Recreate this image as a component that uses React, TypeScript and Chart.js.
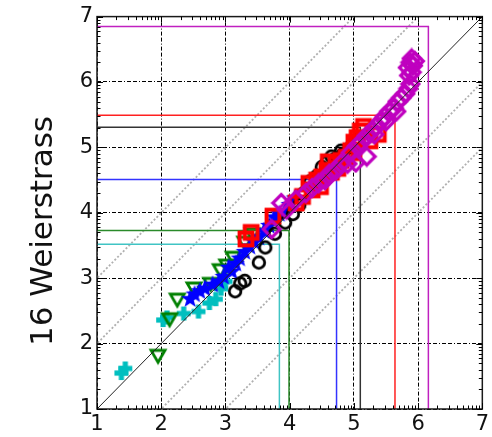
import React, { useEffect, useRef } from "react";
import { Chart, registerables } from "chart.js";

Chart.register(...registerables);

// Axis range and tick labels
const AXIS_MIN = 1;
const AXIS_MAX = 7;
const tickLabels = ["1", "2", "3", "4", "5", "6", "7"];
const yTitle = "16 Weierstrass";

// Offsets of the dotted reference diagonals
const diagonalOffsets = [-2, -1, 1, 2];

// Series values
const cyanX = [1.38, 1.44, 2.03, 2.09, 2.35, 2.58, 2.75, 2.85, 2.93, 3.0];
const cyanY = [1.55, 1.62, 2.36, 2.4, 2.46, 2.49, 2.62, 2.68, 2.84, 2.95];

const greenX = [1.95, 2.13, 2.25, 2.51, 2.77, 2.92, 3.02, 3.12, 3.3, 3.42];
const greenY = [1.82, 2.38, 2.68, 2.85, 2.92, 3.13, 3.2, 3.32, 3.55, 3.68];

const blueX = [2.45, 2.52, 2.6, 2.68, 2.8, 2.9, 2.97, 3.05, 3.1, 3.16, 3.22, 3.3, 3.38, 3.45, 3.52, 3.6, 3.68, 3.76, 3.84, 3.92, 4.0, 4.08];
const blueY = [2.68, 2.75, 2.8, 2.84, 2.9, 2.95, 3.02, 3.16, 3.1, 3.22, 3.3, 3.4, 3.48, 3.55, 3.62, 3.72, 3.8, 3.93, 3.98, 4.02, 4.12, 4.22];

const blackX = [3.15, 3.23, 3.3, 3.52, 3.62, 3.77, 3.93, 4.05, 4.15, 4.22, 4.32, 4.42, 4.5, 4.58, 4.65, 4.7, 4.8, 4.83, 4.95, 5.0, 5.05];
const blackY = [2.8, 2.92, 2.96, 3.24, 3.47, 3.68, 3.85, 3.98, 4.12, 4.3, 4.48, 4.56, 4.7, 4.78, 4.86, 4.82, 4.95, 4.9, 5.0, 5.08, 5.12];

const redX = [3.32, 3.4, 3.74, 4.1, 4.2, 4.3, 4.35, 4.42, 4.48, 4.5, 4.58, 4.65, 4.72, 4.8, 4.88, 4.95, 5.0, 5.05, 5.1, 5.15, 5.25, 5.38, 5.0, 4.75, 4.6];
const redY = [3.6, 3.7, 3.95, 4.15, 4.25, 4.45, 4.35, 4.5, 4.4, 4.55, 4.65, 4.62, 4.75, 4.8, 4.85, 4.95, 5.08, 5.15, 5.25, 5.32, 5.1, 5.2, 4.92, 4.68, 4.78];

const magentaX = [3.72, 3.87, 3.95, 4.1, 4.25, 4.35, 4.45, 4.55, 4.62, 4.72, 4.8, 4.9, 5.03, 5.2, 4.95, 5.05, 5.12, 5.2, 5.28, 5.35, 5.42, 5.48, 5.55, 5.62, 5.68, 5.74, 5.8, 5.85, 5.88, 5.86, 5.9, 5.84, 5.92, 5.88, 5.95, 5.9, 5.32, 5.5, 5.66];
const magentaY = [3.75, 4.15, 4.05, 4.2, 4.3, 4.38, 4.45, 4.5, 4.6, 4.65, 4.75, 4.75, 4.77, 4.86, 4.92, 5.02, 5.08, 5.18, 5.25, 5.32, 5.4, 5.47, 5.55, 5.6, 5.7, 5.76, 5.82, 5.9, 5.97, 6.1, 6.15, 6.22, 6.25, 6.3, 6.32, 6.36, 5.2, 5.4, 5.55];

// Threshold corners, one per series (cyan, green, blue, black, red, magenta)
const levelX = [3.84, 3.99, 4.73, 5.1, 5.64, 6.16];
const levelY = [3.52, 3.73, 4.51, 5.31, 5.49, 6.85];

const seriesColors = ["#00bfbf", "#008000", "#0000ff", "#000000", "#ff0000", "#bf00bf"];
const levelColors = ["#40c4c4", "#2a8a2a", "#3333ff", "#333333", "#ff2020", "#c020c0"];
const markerKinds = ["plus", "triDown", "star", "circle", "square", "diamond"];

const FONT = '"DejaVu Sans", "Liberation Sans", sans-serif';

function makeMarker(kind: string, color: string): HTMLCanvasElement {
  const c = document.createElement("canvas");
  c.width = 22;
  c.height = 22;
  const g = c.getContext("2d")!;
  g.translate(11, 11);
  g.strokeStyle = color;
  g.fillStyle = color;
  g.lineJoin = "miter";
  switch (kind) {
    case "plus":
      g.fillRect(-7, -2.6, 14, 5.2);
      g.fillRect(-2.6, -7, 5.2, 14);
      break;
    case "triDown":
      g.lineWidth = 2.8;
      g.beginPath();
      g.moveTo(-7, -5);
      g.lineTo(7, -5);
      g.lineTo(0, 7);
      g.closePath();
      g.stroke();
      break;
    case "star": {
      g.beginPath();
      for (let i = 0; i < 10; i++) {
        const r = i % 2 === 0 ? 9.5 : 3.9;
        const a = -Math.PI / 2 + (i * Math.PI) / 5;
        const px = r * Math.cos(a);
        const py = r * Math.sin(a);
        if (i === 0) g.moveTo(px, py);
        else g.lineTo(px, py);
      }
      g.closePath();
      g.fill();
      break;
    }
    case "circle":
      g.lineWidth = 2.8;
      g.beginPath();
      g.arc(0, 0, 5.8, 0, Math.PI * 2);
      g.stroke();
      break;
    case "square":
      g.lineWidth = 4;
      g.strokeRect(-6.4, -6.4, 12.8, 12.8);
      break;
    case "diamond":
      g.lineWidth = 3.2;
      g.beginPath();
      g.moveTo(0, -8.4);
      g.lineTo(8.4, 0);
      g.lineTo(0, 8.4);
      g.lineTo(-8.4, 0);
      g.closePath();
      g.stroke();
      break;
  }
  return c;
}

const toPoints = (xs: number[], ys: number[]) => xs.map((x, i) => ({ x, y: ys[i] }));

// Frame, inner log-style minor ticks and the rotated y title
const framePlugin = {
  id: "frame",
  afterDraw(chart: any) {
    const { ctx, chartArea } = chart;
    const { left, right, top, bottom } = chartArea;
    const xs = chart.scales.x;
    const ys = chart.scales.y;
    ctx.save();
    ctx.strokeStyle = "#1a1a1a";
    ctx.lineWidth = 1.5;
    ctx.strokeRect(left, top, right - left, bottom - top);

    ctx.lineWidth = 1;
    ctx.strokeStyle = "#000";
    const marks: { v: number; len: number }[] = [];
    for (let v = AXIS_MIN; v <= AXIS_MAX; v++) {
      marks.push({ v, len: 6 });
      if (v < AXIS_MAX) {
        for (let k = 2; k <= 9; k++) marks.push({ v: v + Math.log10(k), len: 3.5 });
      }
    }
    ctx.beginPath();
    for (const m of marks) {
      const px = Math.round(xs.getPixelForValue(m.v)) + 0.5;
      ctx.moveTo(px, bottom);
      ctx.lineTo(px, bottom - m.len);
      ctx.moveTo(px, top);
      ctx.lineTo(px, top + m.len);
      const py = Math.round(ys.getPixelForValue(m.v)) + 0.5;
      ctx.moveTo(left, py);
      ctx.lineTo(left + m.len, py);
      ctx.moveTo(right, py);
      ctx.lineTo(right - m.len, py);
    }
    ctx.stroke();

    ctx.translate(44, 231);
    ctx.rotate(-Math.PI / 2);
    ctx.font = `31px ${FONT}`;
    ctx.fillStyle = "#111";
    ctx.textAlign = "center";
    ctx.textBaseline = "middle";
    ctx.fillText(yTitle, 0, 0);
    ctx.restore();
  },
};

export default function App() {
  const canvasRef = useRef<HTMLCanvasElement | null>(null);

  useEffect(() => {
    if (!canvasRef.current) return;

    const seriesX = [cyanX, greenX, blueX, blackX, redX, magentaX];
    const seriesY = [cyanY, greenY, blueY, blackY, redY, magentaY];
    const names = ["cyan", "green", "blue", "black", "red", "magenta"];

    const datasets: any[] = [];

    // identity line on top of the markers
    datasets.push({
      label: "y = x",
      data: [
        { x: AXIS_MIN, y: AXIS_MIN },
        { x: AXIS_MAX, y: AXIS_MAX },
      ],
      showLine: true,
      borderColor: "#222",
      borderWidth: 1,
      pointRadius: 0,
      order: 0,
    });

    // markers: later series drawn over earlier ones
    names.forEach((name, i) => {
      datasets.push({
        label: name,
        data: toPoints(seriesX[i], seriesY[i]),
        pointStyle: makeMarker(markerKinds[i], seriesColors[i]),
        pointRadius: 6,
        showLine: false,
        order: 10 - i,
      });
    });

    // threshold boxes
    names.forEach((name, i) => {
      datasets.push({
        label: name + " level",
        data: [
          { x: AXIS_MIN, y: levelY[i] },
          { x: levelX[i], y: levelY[i] },
          { x: levelX[i], y: AXIS_MIN },
        ],
        showLine: true,
        borderColor: levelColors[i],
        borderWidth: 1.5,
        pointRadius: 0,
        order: 20,
      });
    });

    // dotted parallels to the identity line
    diagonalOffsets.forEach((o) => {
      datasets.push({
        label: "offset " + o,
        data: [
          { x: AXIS_MIN - 3, y: AXIS_MIN - 3 + o },
          { x: AXIS_MAX + 3, y: AXIS_MAX + 3 + o },
        ],
        showLine: true,
        borderColor: "#b0b0b0",
        borderWidth: 1.8,
        borderDash: [2, 2],
        pointRadius: 0,
        order: 30,
      });
    });

    const axisCommon = (isX: boolean) => ({
      type: "linear" as const,
      min: AXIS_MIN,
      max: AXIS_MAX,
      afterBuildTicks: (scale: any) => {
        scale.ticks = tickLabels.map((t) => ({ value: Number(t) }));
      },
      ticks: {
        color: "#111",
        font: { family: FONT, size: 21 },
        padding: isX ? 3 : 4,
        maxRotation: 0,
        autoSkip: false,
        callback: (v: any) => tickLabels[tickLabels.indexOf(String(v))] ?? "",
      },
      grid: {
        color: "#000",
        lineWidth: 1,
        drawTicks: false,
      },
      border: { display: false, dash: [4, 2, 4, 2, 1, 2] },
      afterFit: (scale: any) => {
        if (isX) scale.height = 28;
        else scale.width = 97;
      },
    });

    const chart = new Chart(canvasRef.current, {
      type: "scatter",
      data: { datasets },
      options: {
        animation: false,
        responsive: false,
        maintainAspectRatio: false,
        layout: { padding: { left: 0, right: 6, top: 16, bottom: 0 } },
        plugins: {
          legend: { display: false },
          tooltip: { enabled: false },
          title: { display: false },
        },
        scales: {
          x: axisCommon(true),
          y: axisCommon(false),
        },
      },
      plugins: [framePlugin],
    });

    return () => chart.destroy();
  }, []);

  return (
    <div style={{ position: "fixed", left: 0, top: 0, width: 492, height: 437, background: "#fff" }}>
      <canvas ref={canvasRef} width={492} height={437} style={{ display: "block" }} />
    </div>
  );
}
